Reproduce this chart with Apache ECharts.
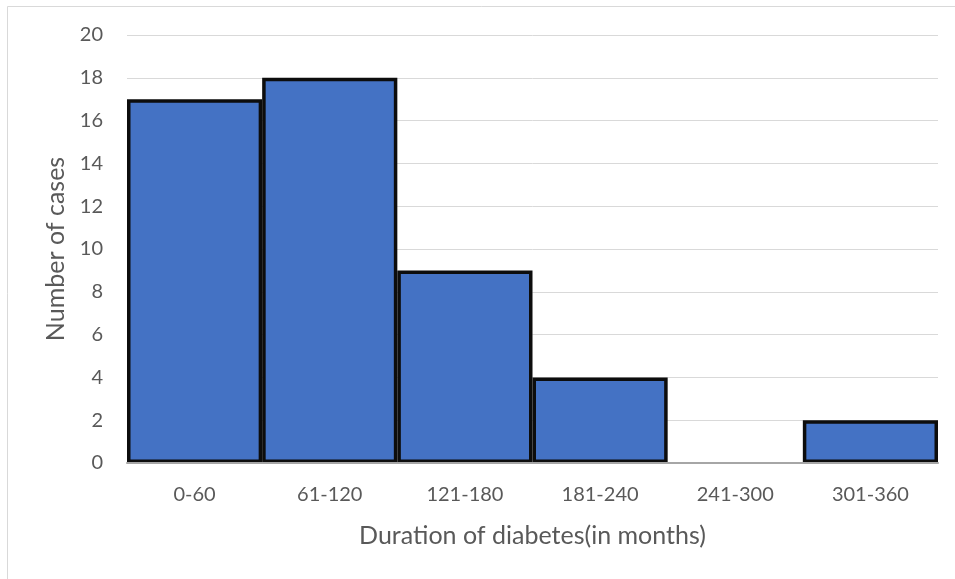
<!DOCTYPE html>
<html>
<head>
<meta charset="utf-8">
<script src="https://cdn.jsdelivr.net/npm/echarts@6/dist/echarts.min.js"></script>
<style>
  html, body { margin: 0; padding: 0; background: #fff; }
  #chart { width: 955px; height: 579px; }
</style>
</head>
<body>
<div id="chart"></div>
<script>
// Duration of diabetes histogram
const categories = ['0-60', '61-120', '121-180', '181-240', '241-300', '301-360'];
const caseCounts = [17, 18, 9, 4, 0, 2];
const yTicks = { min: 0, max: 20, interval: 2 };

const FONT = 'Lato, "Open Sans", sans-serif';
const TEXT = '#595959';

const chart = echarts.init(document.getElementById('chart'), null, { renderer: 'canvas' });
chart.setOption({
  animation: false,
  backgroundColor: '#fff',
  graphic: [{
    type: 'rect',
    shape: { x: 7.5, y: 6.5, width: 960, height: 580 },
    style: { fill: 'none', stroke: '#d9d9d9', lineWidth: 1 },
    silent: true
  }],
  grid: { left: 127, right: 17, top: 35, bottom: 116, containLabel: false },
  xAxis: {
    type: 'category',
    data: categories,
    z: 5,
    name: 'Duration of diabetes(in months)',
    nameLocation: 'middle',
    nameGap: 60,
    nameTextStyle: { fontFamily: FONT, fontSize: 25, color: TEXT },
    axisLine: { lineStyle: { color: '#a6a6a6', width: 2 } },
    axisTick: { show: false },
    axisLabel: { fontFamily: FONT, fontSize: 20, color: TEXT, margin: 22 }
  },
  yAxis: {
    type: 'value',
    min: yTicks.min,
    max: yTicks.max,
    interval: yTicks.interval,
    name: 'Number of cases',
    nameLocation: 'middle',
    nameGap: 58,
    nameTextStyle: { fontFamily: FONT, fontSize: 25, color: TEXT },
    axisLine: { show: false },
    axisTick: { show: false },
    splitLine: { lineStyle: { color: '#d9d9d9', width: 1 } },
    axisLabel: { fontFamily: FONT, fontSize: 20, color: TEXT, margin: 24 }
  },
  series: [{
    type: 'bar',
    // empty bins get no outline, only filled bins are framed
    data: caseCounts.map(v => (v === 0 ? { value: v, itemStyle: { borderWidth: 0 } } : v)),
    barCategoryGap: '0%',
    itemStyle: { color: '#4472c4', borderColor: '#0d0d0d', borderWidth: 3.5 }
  }]
});
</script>
</body>
</html>
